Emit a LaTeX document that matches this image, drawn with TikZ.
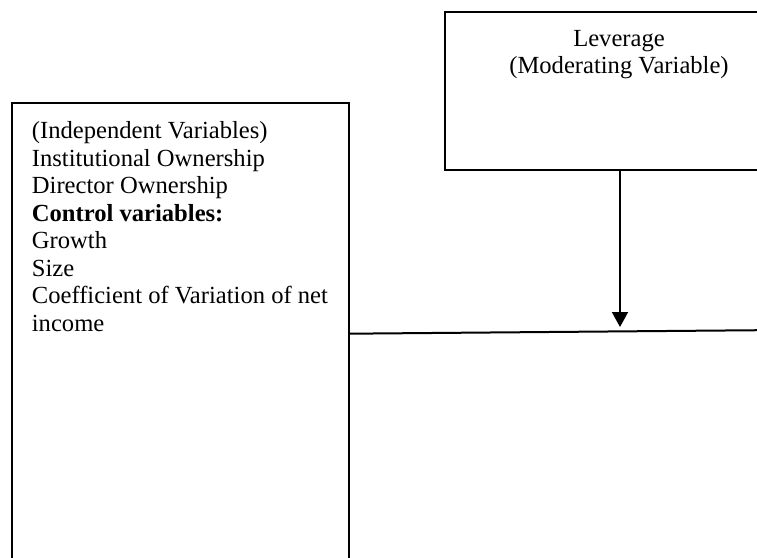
\documentclass[tikz,border=0pt]{standalone}
\usepackage{fontspec}
\setmainfont{Liberation Serif}
\usetikzlibrary{arrows.meta}
\begin{document}
\begin{tikzpicture}[x=0.5pt,y=-0.5pt,
  box/.style={draw=black,line width=1pt,rectangle,inner sep=0pt},
  txt/.style={inner sep=0pt,font=\fontsize{12.3}{13.75}\selectfont},
  conn/.style={draw=black,line width=1pt}]
\useasboundingbox (0,0) rectangle (757,558);
\clip (0,0) rectangle (757,558);
% boxes
\node[box,minimum width=168.75pt,minimum height=258.5pt] (lbox) at (180.25,361.5) {};
\node[box,minimum width=177.5pt,minimum height=79pt] (rbox) at (622.5,91) {};
% texts
\node[txt,anchor=north west,align=left] (ltext) at (31.5,121.3) {(Independent Variables)\\
Institutional Ownership\\
Director Ownership\\
\textbf{Control variables:}\\
Growth\\
Size\\
Coefficient of Variation of net\\
income};
\node[txt,anchor=north,align=center] (rtext) at (619,29.5) {Leverage\\(Moderating Variable)};
% connectors
\coordinate (tip) at (620,327);
\coordinate (lstart) at (349,333.7);
\coordinate (lend) at (760,330.2);
\draw[conn,-{Triangle[length=7.5pt,width=8pt]}] (rbox.south -| tip) -- (tip);
\draw[conn] (lstart) -- (lend);
\end{tikzpicture}
\end{document}
